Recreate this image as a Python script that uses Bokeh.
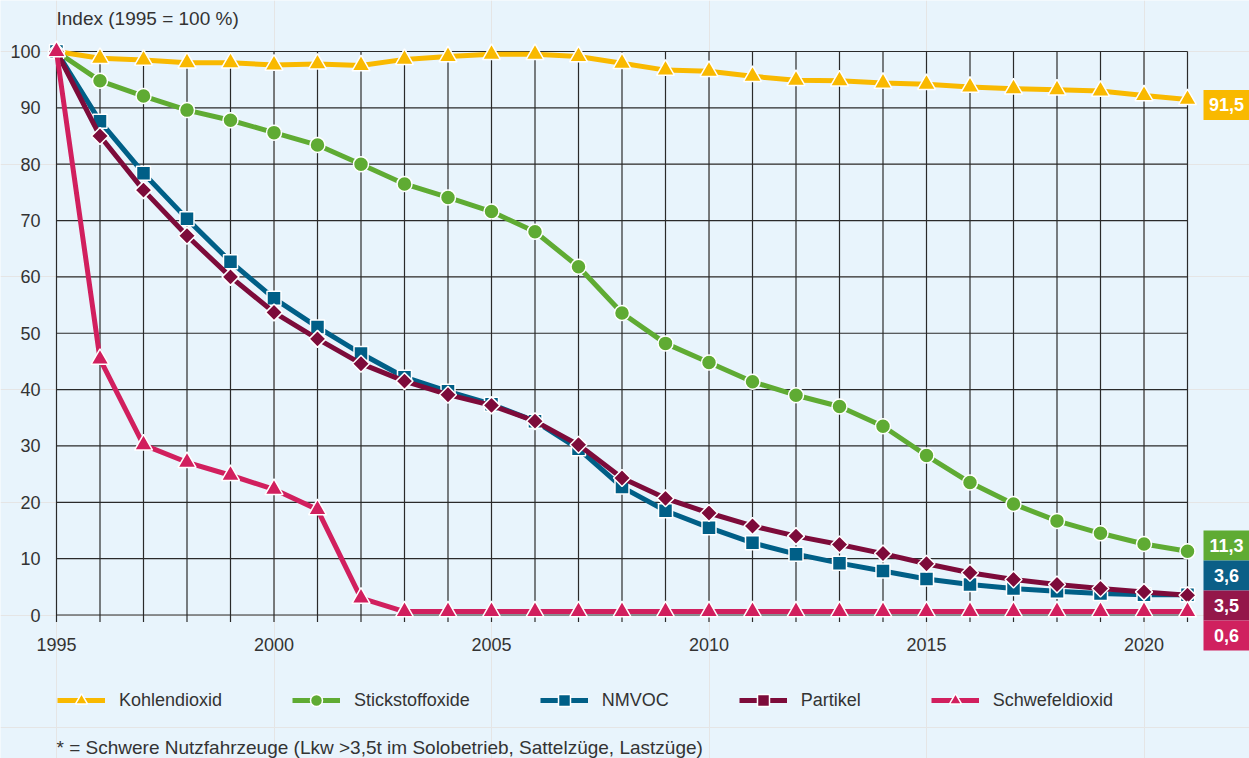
from bokeh.plotting import figure
from bokeh.models import Range1d
from bokeh.core.properties import value
from bokeh.embed import file_html
from bokeh.resources import INLINE
import numpy as np

# ---------------- data ----------------
years = list(range(1995, 2022))
kohlendioxid = [100, 98.8, 98.5, 98.0, 98.0, 97.6, 97.8, 97.5, 98.6, 99.1, 99.5, 99.5, 99.1,
                97.9, 96.7, 96.5, 95.6, 94.9, 94.8, 94.4, 94.2, 93.7, 93.4, 93.2, 93.0, 92.2, 91.5]
stickstoffoxide = [100, 94.8, 92.1, 89.6, 87.8, 85.6, 83.4, 80.0, 76.5, 74.1, 71.6, 68.0, 61.8,
                   53.6, 48.2, 44.8, 41.4, 39.0, 37.0, 33.5, 28.3, 23.5, 19.7, 16.7, 14.5, 12.6, 11.3]
nmvoc = [100, 87.6, 78.4, 70.3, 62.7, 56.2, 51.1, 46.4, 42.2, 39.7, 37.4, 34.4, 29.5,
         22.7, 18.5, 15.5, 12.8, 10.8, 9.2, 7.8, 6.4, 5.4, 4.7, 4.2, 3.8, 3.6, 3.6]
partikel = [100, 85.0, 75.4, 67.3, 60.0, 53.7, 49.0, 44.6, 41.5, 39.1, 37.2, 34.4, 30.2,
            24.3, 20.7, 18.1, 15.8, 14.0, 12.5, 10.9, 9.1, 7.5, 6.3, 5.4, 4.7, 4.1, 3.5]
schwefeldioxid = [100, 45.4, 30.2, 27.1, 24.8, 22.3, 18.7, 3.0, 0.6, 0.6, 0.6, 0.6, 0.6,
                  0.6, 0.6, 0.6, 0.6, 0.6, 0.6, 0.6, 0.6, 0.6, 0.6, 0.6, 0.6, 0.6, 0.6]

series_names = ["Kohlendioxid", "Stickstoffoxide", "NMVOC", "Partikel", "Schwefeldioxid"]
y_ticks = [0, 10, 20, 30, 40, 50, 60, 70, 80, 90, 100]
x_tick_labels = [1995, 2000, 2005, 2010, 2015, 2020]
title_text = "Index (1995 = 100 %)"
footnote_text = "* = Schwere Nutzfahrzeuge (Lkw >3,5t im Solobetrieb, Sattelzüge, Lastzüge)"

# ---------------- styles / layout ----------------
BG = "#e8f4fc"
TXT = "#333333"
GRID = "#2a2a2a"
FONT = "Liberation Sans"
line_colors = ["#f9b900", "#5fab33", "#005f87", "#7d0b3a", "#d11f5e"]
box_colors = ["#f9b900", "#5fab33", "#0b5f87", "#94174a", "#d0215f"]
markers = ["triangle", "circle", "square", "square", "triangle"]
msizes = [18, 15, 14, 12, 18]
angles = [0, 0, 0, np.pi / 4, 0]

W, H = 1249, 758
X_LEFT_PX, X_RIGHT_PX = 56, 1187     # canvas px of 1995 and 2021
Y_TOP_PX, Y_ZERO_PX = 51, 614.5      # canvas px of 100 and 0
ppx = (X_RIGHT_PX - X_LEFT_PX) / (years[-1] - years[0])
ppy = (Y_ZERO_PX - Y_TOP_PX) / 100.0
x_start = years[0] - X_LEFT_PX / ppx
x_end = x_start + W / ppx
y_end = 100 + Y_TOP_PX / ppy
y_start = -(H - Y_ZERO_PX) / ppy

p = figure(width=W, height=H, output_backend="svg", toolbar_location=None,
           x_range=Range1d(x_start, x_end), y_range=Range1d(y_start, y_end),
           x_axis_location=None, y_axis_location=None, min_border=0,
           background_fill_color=BG, border_fill_color=BG, outline_line_color=None)

# grid
tick_bottom = -7 / ppy
p.segment(x0=years, y0=[tick_bottom] * len(years), x1=years, y1=[100] * len(years),
          line_color=GRID, line_width=1.2)
p.segment(x0=[years[0]] * len(y_ticks), y0=y_ticks, x1=[years[-1]] * len(y_ticks), y1=y_ticks,
          line_color=GRID, line_width=1.2)

# tick labels
p.text(x=[years[0]] * len(y_ticks), y=y_ticks, text=[str(t) for t in y_ticks],
       x_offset=-16, text_align="right", text_baseline="middle",
       text_font=value(FONT), text_font_size=value("18px"), text_color=TXT)
p.text(x=x_tick_labels, y=[0] * len(x_tick_labels), text=[str(t) for t in x_tick_labels],
       y_offset=29.5, text_align="center", text_baseline="middle",
       text_font=value(FONT), text_font_size=value("18px"), text_color=TXT)

# title and footnote
p.text(x=[years[0]], y=[100], text=[title_text], y_offset=-33, text_align="left",
       text_baseline="middle", text_font=value(FONT), text_font_size=value("19px"), text_color=TXT)
p.text(x=[years[0]], y=[0], text=[footnote_text], y_offset=132.5, text_align="left",
       text_baseline="middle", text_font=value(FONT), text_font_size=value("19px"), text_color=TXT)

# series
all_series = [kohlendioxid, stickstoffoxide, nmvoc, partikel, schwefeldioxid]
for name, vals, col, mk, ms, ang in zip(series_names, all_series, line_colors, markers, msizes, angles):
    p.line(years, vals, line_color=col, line_width=5, line_join="round", legend_label=name)
    p.scatter(years, vals, marker=mk, size=ms, angle=ang, fill_color=col, line_color="white",
              line_width=1.5, legend_label=name)

# end value boxes
last_vals = [s[-1] for s in all_series]
box_x = years[-1] + 39 / ppx
box_h_units = 30 / ppy
box_y = [kohlendioxid[-1] - 5.6 / ppy]
first_low = stickstoffoxide[-1] + 5.8 / ppy
for k in range(4):
    box_y.append(first_low - k * box_h_units)
p.rect(x=[box_x] * 5, y=box_y, width=46, height=30, width_units="screen", height_units="screen",
       fill_color=box_colors, line_color=None)
p.text(x=[box_x] * 5, y=box_y, text=[f"{v:.1f}".replace(".", ",") for v in last_vals],
       text_align="center", text_baseline="middle", text_color="white",
       text_font=value(FONT), text_font_style="bold", text_font_size=value("18px"))

# legend
lg = p.legend[0]
lg.orientation = "horizontal"
lg.location = (57, 43)
lg.glyph_width = 48
lg.glyph_height = 30
lg.label_height = 30
lg.label_standoff = 14
lg.spacing = 70
lg.padding = 0
lg.margin = 0
lg.background_fill_alpha = 0
lg.border_line_alpha = 0
lg.label_text_font = FONT
lg.label_text_font_size = "18px"
lg.label_text_color = TXT

open("out.html", "w").write(file_html(p, INLINE))
